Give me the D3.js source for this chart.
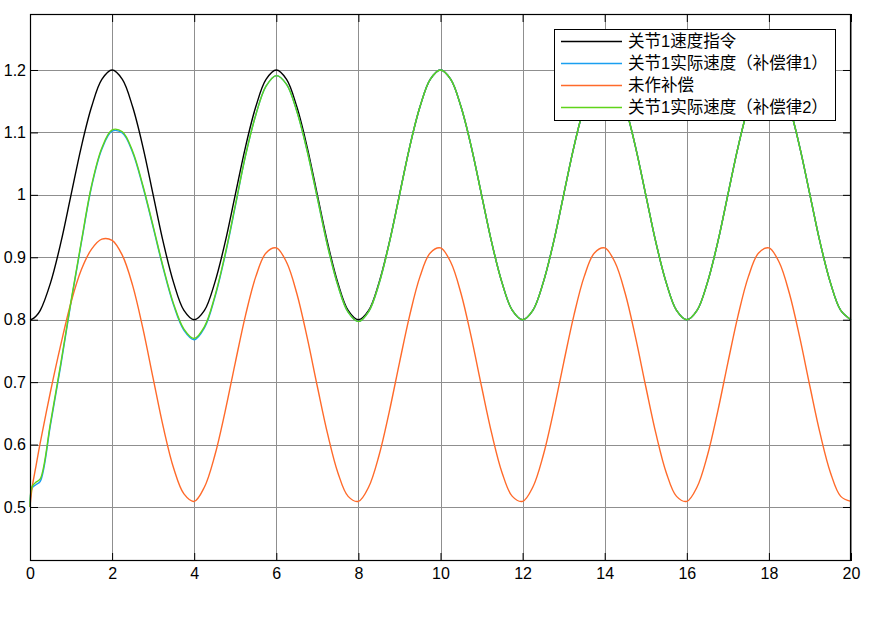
<!DOCTYPE html>
<html>
<head>
<meta charset="utf-8">
<script src="https://cdn.jsdelivr.net/npm/d3@7/dist/d3.min.js"></script>
<style>
	html, body { margin: 0; padding: 0; background: #fff; }
	svg { display: block; }
	.tick-label { font-family: "Liberation Sans", Arial, sans-serif; font-size: 16px; fill: #000; }
	.legend-label { font-family: "Liberation Sans", "Noto Sans CJK SC", sans-serif; font-size: 16.5px; fill: #000; }
</style>
</head>
<body>
<div id="chart"></div>
<script>
// sample times (s)
const timeSec = [0, 0.05, 0.15,
	0.25, 0.5, 0.75, 1, 1.25, 1.5, 1.75, 2, 2.25, 2.5, 2.75, 3, 3.25, 3.5, 3.75,
	4, 4.25, 4.5, 4.75, 5, 5.25, 5.5, 5.75, 6, 6.25, 6.5, 6.75, 7, 7.25, 7.5, 7.75,
	8, 8.25, 8.5, 8.75, 9, 9.25, 9.5, 9.75, 10, 10.25, 10.5, 10.75, 11, 11.25, 11.5, 11.75,
	12, 12.25, 12.5, 12.75, 13, 13.25, 13.5, 13.75, 14, 14.25, 14.5, 14.75, 15, 15.25, 15.5, 15.75,
	16, 16.25, 16.5, 16.75, 17, 17.25, 17.5, 17.75, 18, 18.25, 18.5, 18.75, 19, 19.25, 19.5, 19.75,
	20];

// 关节1速度指令
const speedCommand = [0.8, 0.801, 0.806,
	0.815, 0.859, 0.923, 1.0, 1.077, 1.141, 1.185, 1.2, 1.185, 1.141, 1.077, 1.0, 0.923, 0.859, 0.815,
	0.8, 0.815, 0.859, 0.923, 1.0, 1.077, 1.141, 1.185, 1.2, 1.185, 1.141, 1.077, 1.0, 0.923, 0.859, 0.815,
	0.8, 0.815, 0.859, 0.923, 1.0, 1.077, 1.141, 1.185, 1.2, 1.185, 1.141, 1.077, 1.0, 0.923, 0.859, 0.815,
	0.8, 0.815, 0.859, 0.923, 1.0, 1.077, 1.141, 1.185, 1.2, 1.185, 1.141, 1.077, 1.0, 0.923, 0.859, 0.815,
	0.8, 0.815, 0.859, 0.923, 1.0, 1.077, 1.141, 1.185, 1.2, 1.185, 1.141, 1.077, 1.0, 0.923, 0.859, 0.815,
	0.8];

// 关节1实际速度（补偿律1）
const speedLaw1 = [0.5, 0.530, 0.536,
	0.541, 0.632, 0.727, 0.828, 0.923, 1.013, 1.073, 1.102, 1.099, 1.068, 1.013, 0.948, 0.881, 0.823, 0.783,
	0.768, 0.787, 0.835, 0.902, 0.981, 1.063, 1.128, 1.174, 1.191, 1.177, 1.134, 1.071, 0.995, 0.918, 0.855, 0.812,
	0.797, 0.813, 0.857, 0.922, 0.999, 1.077, 1.141, 1.185, 1.2, 1.185, 1.141, 1.077, 1.0, 0.923, 0.859, 0.815,
	0.8, 0.815, 0.859, 0.923, 1.0, 1.077, 1.141, 1.185, 1.2, 1.185, 1.141, 1.077, 1.0, 0.923, 0.859, 0.815,
	0.8, 0.815, 0.859, 0.923, 1.0, 1.077, 1.141, 1.185, 1.2, 1.185, 1.141, 1.077, 1.0, 0.923, 0.859, 0.815,
	0.8];

// 未作补偿
const speedNoComp = [0.5, 0.530, 0.567,
	0.603, 0.685, 0.760, 0.828, 0.880, 0.913, 0.929, 0.927, 0.903, 0.855, 0.786, 0.706, 0.627, 0.562, 0.521,
	0.509, 0.532, 0.582, 0.652, 0.731, 0.807, 0.869, 0.907, 0.915, 0.892, 0.842, 0.772, 0.693, 0.617, 0.555, 0.517,
	0.509, 0.532, 0.582, 0.652, 0.731, 0.807, 0.869, 0.907, 0.915, 0.892, 0.842, 0.772, 0.693, 0.617, 0.555, 0.517,
	0.509, 0.532, 0.582, 0.652, 0.731, 0.807, 0.869, 0.907, 0.915, 0.892, 0.842, 0.772, 0.693, 0.617, 0.555, 0.517,
	0.509, 0.532, 0.582, 0.652, 0.731, 0.807, 0.869, 0.907, 0.915, 0.892, 0.842, 0.772, 0.693, 0.617, 0.555, 0.517,
	0.509];

// 关节1实际速度（补偿律2）
const speedLaw2 = [0.5, 0.533, 0.540,
	0.545, 0.635, 0.730, 0.830, 0.925, 1.015, 1.075, 1.104, 1.101, 1.070, 1.015, 0.950, 0.883, 0.825, 0.785,
	0.770, 0.789, 0.837, 0.904, 0.983, 1.063, 1.128, 1.174, 1.191, 1.177, 1.134, 1.071, 0.995, 0.918, 0.855, 0.812,
	0.797, 0.813, 0.857, 0.922, 0.999, 1.077, 1.141, 1.185, 1.2, 1.185, 1.141, 1.077, 1.0, 0.923, 0.859, 0.815,
	0.8, 0.815, 0.859, 0.923, 1.0, 1.077, 1.141, 1.185, 1.2, 1.185, 1.141, 1.077, 1.0, 0.923, 0.859, 0.815,
	0.8, 0.815, 0.859, 0.923, 1.0, 1.077, 1.141, 1.185, 1.2, 1.185, 1.141, 1.077, 1.0, 0.923, 0.859, 0.815,
	0.8];

const seriesNames = ["关节1速度指令", "关节1实际速度（补偿律1）", "未作补偿", "关节1实际速度（补偿律2）"];
const seriesColors = ["#000000", "#1a9ff0", "#ff6a2a", "#5fd41a"];
const xTicks = [0, 2, 4, 6, 8, 10, 12, 14, 16, 18, 20];
const yTicks = [0.5, 0.6, 0.7, 0.8, 0.9, 1.0, 1.1, 1.2];

const width = 875,
			height = 619,
			margin = {top: 14, right: 24, bottom: 58, left: 30},
			tickLen = 8;

const series = [speedCommand, speedLaw1, speedNoComp, speedLaw2];

const svg = d3.select("#chart").append("svg")
	.attr("width", width)
	.attr("height", height);

const x = d3.scaleLinear().domain([0, 20]).range([margin.left, width - margin.right]),
			y = d3.scaleLinear().domain([0.4135, 1.2897]).range([height - margin.bottom, margin.top]);

const x0 = x.range()[0], x1 = x.range()[1],
			yTop = y.range()[1], yBot = y.range()[0];

svg.append("rect")
	.attr("x", x0).attr("y", yTop)
	.attr("width", x1 - x0).attr("height", yBot - yTop)
	.attr("fill", "#fff");

// grid
const grid = svg.append("g").attr("stroke", "#8f8f8f").attr("stroke-width", 1);
xTicks.forEach(function(t) {
	grid.append("line")
		.attr("x1", Math.round(x(t)) + 0.5).attr("x2", Math.round(x(t)) + 0.5)
		.attr("y1", yTop).attr("y2", yBot);
});
yTicks.forEach(function(v) {
	grid.append("line")
		.attr("y1", Math.round(y(v)) + 0.5).attr("y2", Math.round(y(v)) + 0.5)
		.attr("x1", x0).attr("x2", x1);
});

// lines
const plot = svg.append("g");
series.forEach(function(values, i) {
	const line = d3.line()
		.x((d, j) => x(timeSec[j]))
		.y(d => y(d))
		.curve(d3.curveCatmullRom.alpha(0.5));
	plot.append("path")
		.datum(values)
		.attr("fill", "none")
		.attr("stroke", seriesColors[i])
		.attr("stroke-width", 1.4)
		.attr("d", line);
});

// axes: MATLAB style box with inward ticks on all sides
const axisBottom = d3.axisBottom(x).tickValues(xTicks).tickSize(-tickLen).tickPadding(7).tickFormat(d3.format("d"));
const axisTop = d3.axisTop(x).tickValues(xTicks).tickSize(-tickLen).tickFormat("");
const axisLeft = d3.axisLeft(y).tickValues(yTicks).tickSize(-tickLen).tickPadding(4).tickFormat(d => d === 1 ? "1" : d3.format(".1f")(d));
const axisRight = d3.axisRight(y).tickValues(yTicks).tickSize(-tickLen).tickFormat("");

function styleAxis(g) {
	g.select(".domain").remove();
	g.selectAll(".tick line").attr("stroke", "#000");
	g.selectAll(".tick text").attr("class", "tick-label").attr("font-size", null).attr("font-family", null);
}

svg.append("g").attr("transform", "translate(0," + yBot + ")").call(axisBottom).call(styleAxis);
svg.append("g").attr("transform", "translate(0," + yTop + ")").call(axisTop).call(styleAxis);
svg.append("g").attr("transform", "translate(" + x0 + ",0)").call(axisLeft).call(styleAxis);
svg.append("g").attr("transform", "translate(" + x1 + ",0)").call(axisRight).call(styleAxis);

svg.append("rect")
	.attr("x", x0 + 0.5).attr("y", yTop + 0.5)
	.attr("width", x1 - x0 - 1).attr("height", yBot - yTop - 1)
	.attr("fill", "none")
	.attr("stroke", "#000")
	.attr("stroke-width", 1.2);

// legend
const legend = svg.append("g").attr("transform", "translate(554,29)");
legend.append("rect")
	.attr("x", 0.5).attr("y", 0.5)
	.attr("width", 281).attr("height", 91)
	.attr("fill", "#fff")
	.attr("stroke", "#000")
	.attr("stroke-width", 1);

seriesNames.forEach(function(name, i) {
	const rowY = 12.5 + i * 22;
	legend.append("line")
		.attr("x1", 7).attr("x2", 68)
		.attr("y1", rowY).attr("y2", rowY)
		.attr("stroke", seriesColors[i])
		.attr("stroke-width", 1.6);
	legend.append("text")
		.attr("class", "legend-label")
		.attr("x", 74)
		.attr("y", rowY)
		.attr("dy", "0.35em")
		.text(name);
});
</script>
</body>
</html>
